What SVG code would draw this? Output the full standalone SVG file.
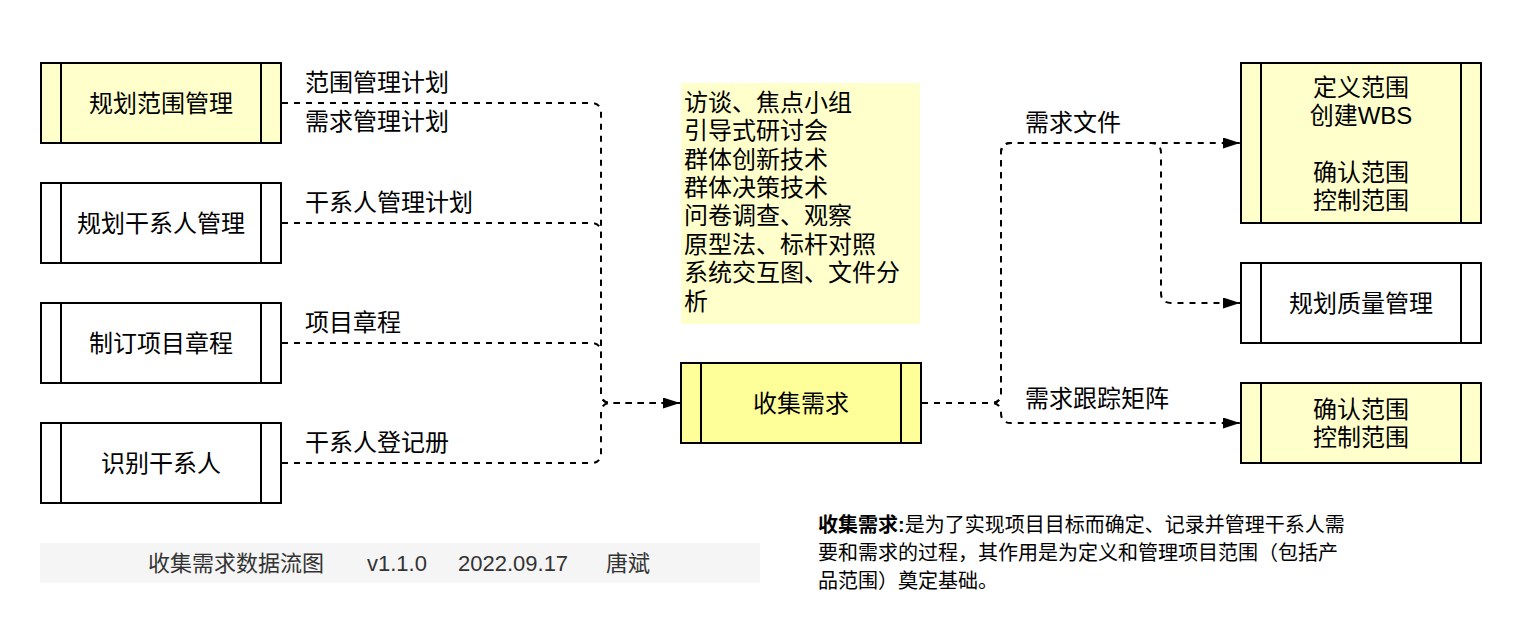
<svg xmlns="http://www.w3.org/2000/svg" width="1522" height="644" viewBox="0 0 1522 644">
<style>
text{font-family:"Liberation Sans","Noto Sans CJK SC",sans-serif;fill:#000}
.t{font-size:24px;text-anchor:middle}
.l{font-size:24px}
.box{stroke:#000;stroke-width:2}
.w{fill:#fff}
.y{fill:#ffffcc}
.yy{fill:#ffff99}
.e{fill:none;stroke:#000;stroke-width:2;stroke-dasharray:6 6}
.ea{marker-end:url(#arr)}
</style>
<defs>
<marker id="arr" viewBox="0 0 17 11" markerWidth="17" markerHeight="11" refX="17" refY="5.5" orient="auto" markerUnits="userSpaceOnUse">
<path d="M0,0 L17,5.5 L0,11 z" fill="#000"/>
</marker>
</defs>
<rect width="1522" height="644" fill="#fff"/>

<g id="edges">
<path class="e" d="M282,103 H591 Q601,103 601,113 V393 Q601,403 611,403 H680"/>
<path class="e" d="M282,223 H591 Q601,223 601,233 V393 Q601,403 611,403 H680"/>
<path class="e" d="M282,343 H591 Q601,343 601,353 V393 Q601,403 611,403 H680"/>
<path class="e ea" d="M282,463 H591 Q601,463 601,453 V413 Q601,403 611,403 H680"/>
<path class="e ea" d="M922,403 H991 Q1001,403 1001,393 V153 Q1001,143 1011,143 H1240"/>
<path class="e ea" d="M922,403 H991 Q1001,403 1001,393 V153 Q1001,143 1011,143 H1151 Q1161,143 1161,153 V293 Q1161,303 1171,303 H1240"/>
<path class="e ea" d="M922,403 H991 Q1001,403 1001,413 V413 Q1001,423 1011,423 H1240"/>
<text class="l" x="305" y="91">范围管理计划</text>
<text class="l" x="305" y="130">需求管理计划</text>
<text class="l" x="305" y="211">干系人管理计划</text>
<text class="l" x="305" y="331">项目章程</text>
<text class="l" x="305" y="451">干系人登记册</text>
<text class="l" x="1025" y="131">需求文件</text>
<text class="l" x="1025" y="407">需求跟踪矩阵</text>
</g>

<g id="n-plan-scope">
<rect class="box y" x="41" y="63" width="240" height="80"/>
<path class="box" d="M61,63 V143 M261,63 V143"/>
<text class="t" x="161" y="112">规划范围管理</text>
</g>
<g id="n-plan-stakeholder">
<rect class="box w" x="41" y="183" width="240" height="80"/>
<path class="box" d="M61,183 V263 M261,183 V263"/>
<text class="t" x="161" y="232">规划干系人管理</text>
</g>
<g id="n-charter">
<rect class="box w" x="41" y="303" width="240" height="80"/>
<path class="box" d="M61,303 V383 M261,303 V383"/>
<text class="t" x="161" y="352">制订项目章程</text>
</g>
<g id="n-identify">
<rect class="box w" x="41" y="423" width="240" height="80"/>
<path class="box" d="M61,423 V503 M261,423 V503"/>
<text class="t" x="161" y="472">识别干系人</text>
</g>

<g id="n-tools">
<rect x="681" y="83" width="239" height="241" fill="#ffffcc"/>
<text class="l" x="684" y="110.7">访谈、焦点小组<tspan x="684" dy="28.4">引导式研讨会</tspan><tspan x="684" dy="28.4">群体创新技术</tspan><tspan x="684" dy="28.4">群体决策技术</tspan><tspan x="684" dy="28.4">问卷调查、观察</tspan><tspan x="684" dy="28.4">原型法、标杆对照</tspan><tspan x="684" dy="28.4">系统交互图、文件分</tspan><tspan x="684" dy="28.4">析</tspan></text>
</g>

<g id="n-collect">
<rect class="box yy" x="681" y="363" width="240" height="80"/>
<path class="box" d="M701,363 V443 M901,363 V443"/>
<text class="t" x="801" y="412">收集需求</text>
</g>

<g id="n-define">
<rect class="box y" x="1241" y="63" width="240" height="160"/>
<path class="box" d="M1261,63 V223 M1461,63 V223"/>
<text class="t" x="1361" y="95.7">定义范围<tspan x="1361" dy="28.3">创建WBS</tspan><tspan x="1361" dy="56.6">确认范围</tspan><tspan x="1361" dy="28.3">控制范围</tspan></text>
</g>
<g id="n-quality">
<rect class="box w" x="1241" y="263" width="240" height="80"/>
<path class="box" d="M1261,263 V343 M1461,263 V343"/>
<text class="t" x="1361" y="312">规划质量管理</text>
</g>
<g id="n-validate">
<rect class="box y" x="1241" y="383" width="240" height="80"/>
<path class="box" d="M1261,383 V463 M1461,383 V463"/>
<text class="t" x="1361" y="418">确认范围<tspan x="1361" dy="28.3">控制范围</tspan></text>
</g>

<g id="footer">
<rect x="40" y="543" width="720" height="40" fill="#f5f5f5"/>
<text x="148" y="571" font-size="22" style="fill:#333">收集需求数据流图</text>
<text x="367" y="571" font-size="22" style="fill:#333">v1.1.0</text>
<text x="458" y="571" font-size="22" style="fill:#333">2022.09.17</text>
<text x="606" y="571" font-size="22" style="fill:#333">唐斌</text>
</g>

<g id="description">
<text x="818" y="532" font-size="20"><tspan font-weight="bold">收集需求:</tspan>是为了实现项目目标而确定、记录并管理干系人需<tspan x="818" dy="28">要和需求的过程，其作用是为定义和管理项目范围（包括产</tspan><tspan x="818" dy="28">品范围）奠定基础。</tspan></text>
</g>
</svg>
